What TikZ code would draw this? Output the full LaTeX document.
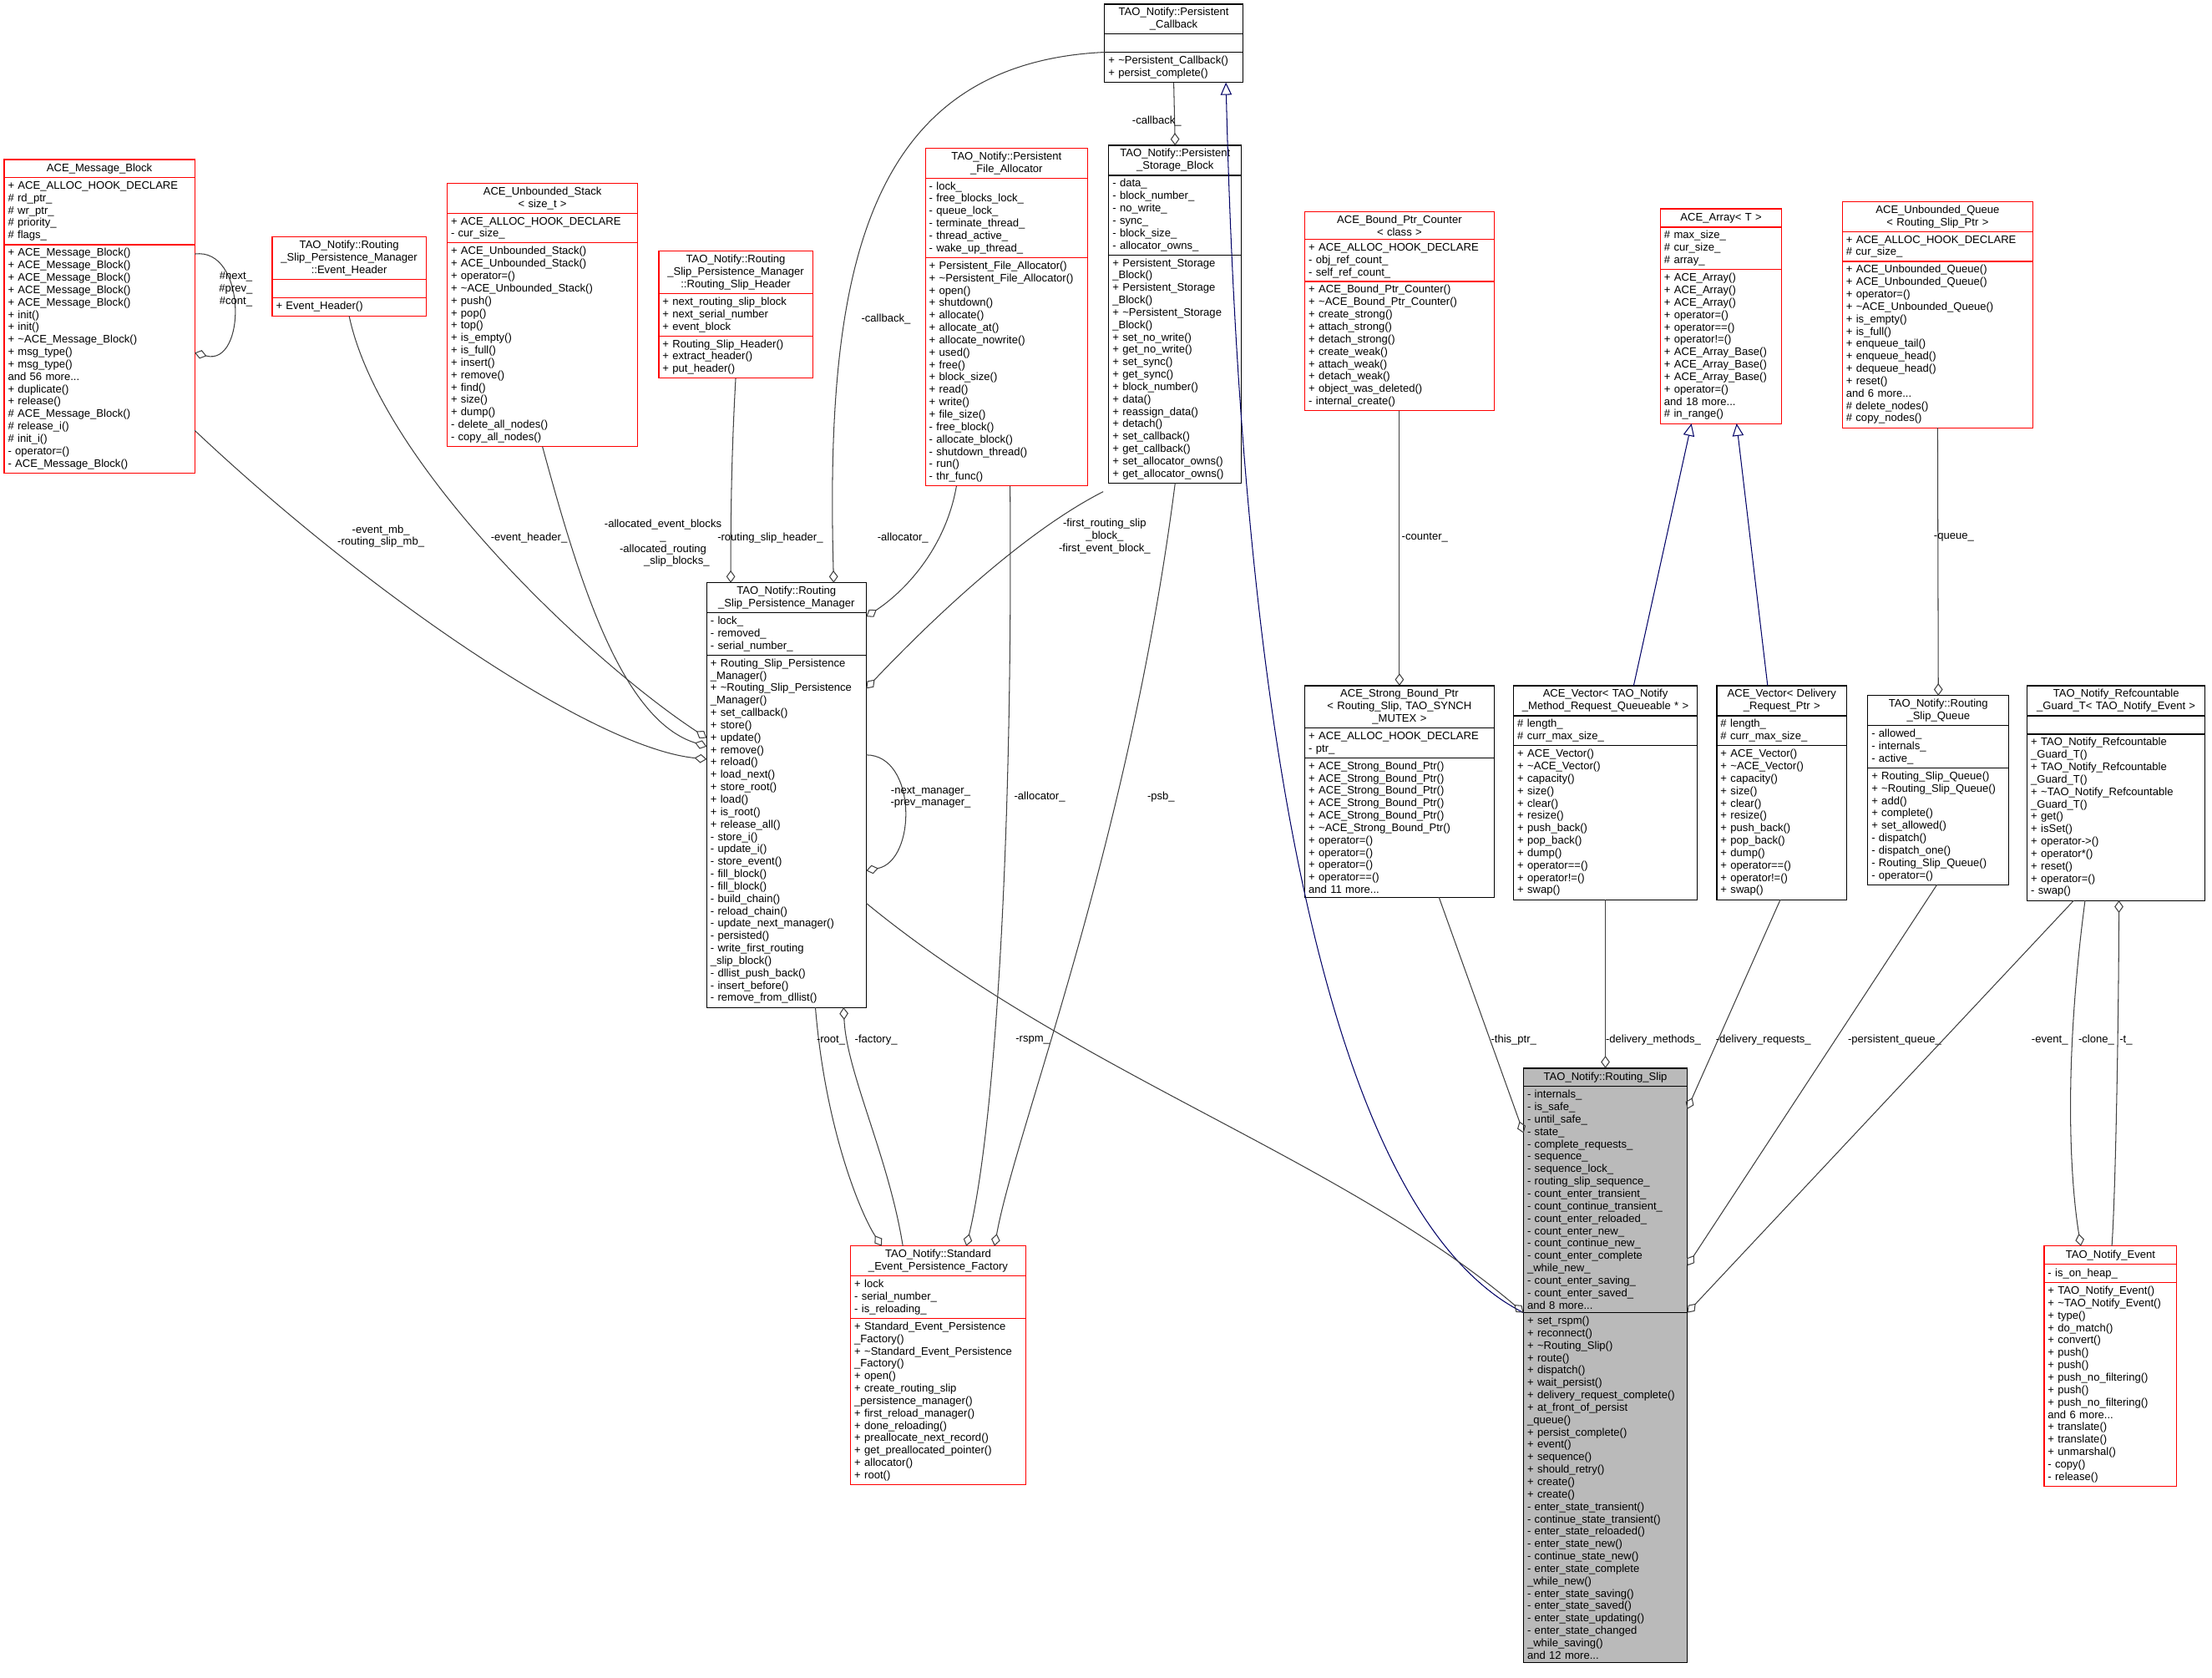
\documentclass[tikz,border=0pt]{standalone}
\usepackage{fontspec}
\setmainfont{Liberation Sans}
\usepackage{tikz}
\usetikzlibrary{arrows.meta,calc,positioning}

\tikzset{
  clspart/.style={draw, fill=white, inner xsep=1.5pt, inner ysep=1.5pt, outer sep=0pt, minimum height=0.26cm,
    font=\fontsize{4.4}{5.0}\selectfont},
  redcls/.style={draw=red},
  blackcls/.style={draw=black},
  graycls/.style={draw=black, fill=black!27},
  coll/.style={draw=black!75, line width=0.35pt, -{Diamond[open,length=5pt,width=3.6pt]}},
  inh/.style={draw=blue!40!black, line width=0.35pt, -{Triangle[open,length=5pt,width=4.5pt]}},
  lbl/.style={inner sep=0pt, align=center, font=\fontsize{4.4}{4.93}\selectfont}
}

% name, x, y, width, style, title, attributes, methods
\newcommand{\umlclass}[8]{%
  \pgfmathsetlengthmacro\clsw{#4*0.02cm-3pt}%
  \node[clspart,#5,anchor=north west,text width=\clsw,align=center] (#1) at (#2,#3) {#6};
  \node[clspart,#5,anchor=north,text width=\clsw,align=left] (#1-a) at (#1.south) {#7};
  \node[clspart,#5,anchor=north,text width=\clsw,align=left] (#1-m) at (#1-a.south) {#8};
}
\newcommand{\dt}{\textasciitilde}

\begin{document}
\catcode`\_=12
\begin{tikzpicture}[x=0.02cm,y=-0.02cm]
  \useasboundingbox[fill=white] (0,0) rectangle (1568,1188.6);

  % classes
  \umlclass{pc}{783}{3}{98}{blackcls}{TAO_Notify::Persistent\\_Callback}{}
    {+ \dt Persistent_Callback()\\+ persist_complete()}
  \umlclass{amb}{3}{113}{135}{redcls}{ACE_Message_Block}
    {+ ACE_ALLOC_HOOK_DECLARE\\\# rd_ptr_\\\# wr_ptr_\\\# priority_\\\# flags_}
    {+ ACE_Message_Block()\\+ ACE_Message_Block()\\+ ACE_Message_Block()\\+ ACE_Message_Block()\\+ ACE_Message_Block()\\+ init()\\+ init()\\+ \dt ACE_Message_Block()\\+ msg_type()\\+ msg_type()\\and 56 more...\\+ duplicate()\\+ release()\\\# ACE_Message_Block()\\\# release_i()\\\# init_i()\\- operator=()\\- ACE_Message_Block()}
  \umlclass{eh}{193}{168}{109}{redcls}{TAO_Notify::Routing\\_Slip_Persistence_Manager\\::Event_Header}{}
    {+ Event_Header()}
  \umlclass{stk}{317}{130}{135}{redcls}{ACE_Unbounded_Stack\\< size_t >}
    {+ ACE_ALLOC_HOOK_DECLARE\\- cur_size_}
    {+ ACE_Unbounded_Stack()\\+ ACE_Unbounded_Stack()\\+ operator=()\\+ \dt ACE_Unbounded_Stack()\\+ push()\\+ pop()\\+ top()\\+ is_empty()\\+ is_full()\\+ insert()\\+ remove()\\+ find()\\+ size()\\+ dump()\\- delete_all_nodes()\\- copy_all_nodes()}
  \umlclass{rsh}{467}{178}{109}{redcls}{TAO_Notify::Routing\\_Slip_Persistence_Manager\\::Routing_Slip_Header}
    {+ next_routing_slip_block\\+ next_serial_number\\+ event_block}
    {+ Routing_Slip_Header()\\+ extract_header()\\+ put_header()}
  \umlclass{pfa}{656}{105}{115}{redcls}{TAO_Notify::Persistent\\_File_Allocator}
    {- lock_\\- free_blocks_lock_\\- queue_lock_\\- terminate_thread_\\- thread_active_\\- wake_up_thread_}
    {+ Persistent_File_Allocator()\\+ \dt Persistent_File_Allocator()\\+ open()\\+ shutdown()\\+ allocate()\\+ allocate_at()\\+ allocate_nowrite()\\+ used()\\+ free()\\+ block_size()\\+ read()\\+ write()\\+ file_size()\\- free_block()\\- allocate_block()\\- shutdown_thread()\\- run()\\- thr_func()}
  \umlclass{psb}{786}{103}{94}{blackcls}{TAO_Notify::Persistent\\_Storage_Block}
    {- data_\\- block_number_\\- no_write_\\- sync_\\- block_size_\\- allocator_owns_}
    {+ Persistent_Storage\\_Block()\\+ Persistent_Storage\\_Block()\\+ \dt Persistent_Storage\\_Block()\\+ set_no_write()\\+ get_no_write()\\+ set_sync()\\+ get_sync()\\+ block_number()\\+ data()\\+ reassign_data()\\+ detach()\\+ set_callback()\\+ get_callback()\\+ set_allocator_owns()\\+ get_allocator_owns()}
  \umlclass{bpc}{925}{150}{134}{redcls}{ACE_Bound_Ptr_Counter\\< class >}
    {+ ACE_ALLOC_HOOK_DECLARE\\- obj_ref_count_\\- self_ref_count_}
    {+ ACE_Bound_Ptr_Counter()\\+ \dt ACE_Bound_Ptr_Counter()\\+ create_strong()\\+ attach_strong()\\+ detach_strong()\\+ create_weak()\\+ attach_weak()\\+ detach_weak()\\+ object_was_deleted()\\- internal_create()}
  \umlclass{arr}{1177}{148}{86}{redcls}{ACE_Array< T >}
    {\# max_size_\\\# cur_size_\\\# array_}
    {+ ACE_Array()\\+ ACE_Array()\\+ ACE_Array()\\+ operator=()\\+ operator==()\\+ operator!=()\\+ ACE_Array_Base()\\+ ACE_Array_Base()\\+ ACE_Array_Base()\\+ operator=()\\and 18 more...\\\# in_range()}
  \umlclass{uq}{1306}{143}{135}{redcls}{ACE_Unbounded_Queue\\< Routing_Slip_Ptr >}
    {+ ACE_ALLOC_HOOK_DECLARE\\\# cur_size_}
    {+ ACE_Unbounded_Queue()\\+ ACE_Unbounded_Queue()\\+ operator=()\\+ \dt ACE_Unbounded_Queue()\\+ is_empty()\\+ is_full()\\+ enqueue_tail()\\+ enqueue_head()\\+ dequeue_head()\\+ reset()\\and 6 more...\\\# delete_nodes()\\\# copy_nodes()}
  \umlclass{rspm}{501}{413}{113}{blackcls}{TAO_Notify::Routing\\_Slip_Persistence_Manager}
    {- lock_\\- removed_\\- serial_number_}
    {+ Routing_Slip_Persistence\\_Manager()\\+ \dt Routing_Slip_Persistence\\_Manager()\\+ set_callback()\\+ store()\\+ update()\\+ remove()\\+ reload()\\+ load_next()\\+ store_root()\\+ load()\\+ is_root()\\+ release_all()\\- store_i()\\- update_i()\\- store_event()\\- fill_block()\\- fill_block()\\- build_chain()\\- reload_chain()\\- update_next_manager()\\- persisted()\\- write_first_routing\\_slip_block()\\- dllist_push_back()\\- insert_before()\\- remove_from_dllist()}
  \umlclass{sbp}{925}{486}{134}{blackcls}{ACE_Strong_Bound_Ptr\\< Routing_Slip, TAO_SYNCH\\_MUTEX >}
    {+ ACE_ALLOC_HOOK_DECLARE\\- ptr_}
    {+ ACE_Strong_Bound_Ptr()\\+ ACE_Strong_Bound_Ptr()\\+ ACE_Strong_Bound_Ptr()\\+ ACE_Strong_Bound_Ptr()\\+ ACE_Strong_Bound_Ptr()\\+ \dt ACE_Strong_Bound_Ptr()\\+ operator=()\\+ operator=()\\+ operator=()\\+ operator==()\\and 11 more...}
  \umlclass{vqm}{1073}{486}{130}{blackcls}{ACE_Vector< TAO_Notify\\_Method_Request_Queueable * >}
    {\# length_\\\# curr_max_size_}
    {+ ACE_Vector()\\+ \dt ACE_Vector()\\+ capacity()\\+ size()\\+ clear()\\+ resize()\\+ push_back()\\+ pop_back()\\+ dump()\\+ operator==()\\+ operator!=()\\+ swap()}
  \umlclass{vdr}{1217}{486}{92}{blackcls}{ACE_Vector< Delivery\\_Request_Ptr >}
    {\# length_\\\# curr_max_size_}
    {+ ACE_Vector()\\+ \dt ACE_Vector()\\+ capacity()\\+ size()\\+ clear()\\+ resize()\\+ push_back()\\+ pop_back()\\+ dump()\\+ operator==()\\+ operator!=()\\+ swap()}
  \umlclass{rsq}{1324}{493}{100}{blackcls}{TAO_Notify::Routing\\_Slip_Queue}
    {- allowed_\\- internals_\\- active_}
    {+ Routing_Slip_Queue()\\+ \dt Routing_Slip_Queue()\\+ add()\\+ complete()\\+ set_allowed()\\- dispatch()\\- dispatch_one()\\- Routing_Slip_Queue()\\- operator=()}
  \umlclass{grd}{1437}{486}{126}{blackcls}{TAO_Notify_Refcountable\\_Guard_T< TAO_Notify_Event >}{}
    {+ TAO_Notify_Refcountable\\_Guard_T()\\+ TAO_Notify_Refcountable\\_Guard_T()\\+ \dt TAO_Notify_Refcountable\\_Guard_T()\\+ get()\\+ isSet()\\+ operator->()\\+ operator*()\\+ reset()\\+ operator=()\\- swap()}
  \umlclass{rs}{1080}{757}{116}{graycls}{TAO_Notify::Routing_Slip}
    {- internals_\\- is_safe_\\- until_safe_\\- state_\\- complete_requests_\\- sequence_\\- sequence_lock_\\- routing_slip_sequence_\\- count_enter_transient_\\- count_continue_transient_\\- count_enter_reloaded_\\- count_enter_new_\\- count_continue_new_\\- count_enter_complete\\_while_new_\\- count_enter_saving_\\- count_enter_saved_\\and 8 more...}
    {+ set_rspm()\\+ reconnect()\\+ \dt Routing_Slip()\\+ route()\\+ dispatch()\\+ wait_persist()\\+ delivery_request_complete()\\+ at_front_of_persist\\_queue()\\+ persist_complete()\\+ event()\\+ sequence()\\+ should_retry()\\+ create()\\+ create()\\- enter_state_transient()\\- continue_state_transient()\\- enter_state_reloaded()\\- enter_state_new()\\- continue_state_new()\\- enter_state_complete\\_while_new()\\- enter_state_saving()\\- enter_state_saved()\\- enter_state_updating()\\- enter_state_changed\\_while_saving()\\and 12 more...}
  \umlclass{sepf}{603}{883}{124}{redcls}{TAO_Notify::Standard\\_Event_Persistence_Factory}
    {+ lock\\- serial_number_\\- is_reloading_}
    {+ Standard_Event_Persistence\\_Factory()\\+ \dt Standard_Event_Persistence\\_Factory()\\+ open()\\+ create_routing_slip\\_persistence_manager()\\+ first_reload_manager()\\+ done_reloading()\\+ preallocate_next_record()\\+ get_preallocated_pointer()\\+ allocator()\\+ root()}
  \umlclass{ev}{1449}{883}{94}{redcls}{TAO_Notify_Event}
    {- is_on_heap_}
    {+ TAO_Notify_Event()\\+ \dt TAO_Notify_Event()\\+ type()\\+ do_match()\\+ convert()\\+ push()\\+ push()\\+ push_no_filtering()\\+ push()\\+ push_no_filtering()\\and 6 more...\\+ translate()\\+ translate()\\+ unmarshal()\\- copy()\\- release()}

  % inheritance
  \draw[inh] (rs-a.south west) .. controls (900,840) and (875,300) .. ($(pc-m.south east)+(-12,0)$);
  \draw[inh] ($(vqm.north west)+(85,0)$) -- ($(arr-m.south west)+(22,0)$);
  \draw[inh] ($(vdr.north west)+(36,0)$) -- ($(arr-m.south west)+(54,0)$);

  % members
  \draw[coll] (pc-m.south) -- (psb.north);
  \node[lbl] (l-cb1) at (820,86) {-callback_};
  \draw[coll] (pc.west |- 0,37) .. controls (610,45) and (585,200) .. ($(rspm.north west)+(90,0)$);
  \node[lbl] (l-cb2) at (628,226) {-callback_};
  \draw[coll] (amb-m.east |- 0,305) .. controls (260,420) and (420,530) .. (rspm-m.west |- 0,538);
  \node[lbl] (l-mb) at (270,380) {-event_mb_\\-routing_slip_mb_};
  \draw[coll] (amb-m.east |- 0,180) .. controls (175,175) and (175,260) .. (amb-m.east |- 0,250);
  \node[lbl, anchor=west] (l-amb) at (155,205) {\#next_\\\#prev_\\\#cont_};
  \draw[coll] (eh-m.south) .. controls (270,330) and (420,470) .. (rspm-m.west |- 0,523);
  \node[lbl] (l-eh) at (375,381) {-event_header_};
  \draw[coll] (stk-m.south) .. controls (410,410) and (440,510) .. (rspm-m.west |- 0,529);
  \node[lbl] (l-stk) at (470,385) {-allocated_event_blocks\\_\\-allocated_routing\\\hspace*{2.5em}_slip_blocks_};
  \draw[coll] (rsh-m.south) .. controls (518,330) and (518,380) .. ($(rspm.north west)+(17,0)$);
  \node[lbl] (l-rsh) at (546,381) {-routing_slip_header_};
  \draw[coll] ($(pfa-m.south west)+(22,0)$) .. controls (670,390) and (640,420) .. (rspm.east |- 0,437);
  \node[lbl] (l-pfa) at (640,381) {-allocator_};
  \draw[coll] ($(psb-m.south west)+(-4,6)$) .. controls (720,380) and (650,450) .. (rspm-m.east |- 0,488);
  \node[lbl] (l-psb) at (783,380) {-first_routing_slip\\_block_\\-first_event_block_};
  \draw[coll] (rspm-m.east |- 0,535) .. controls (650,535) and (650,610) .. (rspm-m.east |- 0,617);
  \node[lbl, anchor=west] (l-nm) at (631,565) {-next_manager_\\-prev_manager_};
  \draw[coll] ($(pfa-m.south west)+(60,0)$) .. controls (718,600) and (705,800) .. ($(sepf.north west)+(82,0)$);
  \node[lbl] (l-al) at (737,565) {-allocator_};
  \draw[coll] (psb-m.south) .. controls (800,600) and (720,800) .. ($(sepf.north west)+(102,0)$);
  \node[lbl] (l-psbf) at (823,565) {-psb_};
  \draw[coll] ($(rspm-m.south west)+(77,0)$) .. controls (585,800) and (610,860) .. ($(sepf.north west)+(22,0)$);
  \node[lbl] (l-root) at (589,737) {-root_};
  \draw[coll] ($(sepf.north west)+(37,0)$) .. controls (630,820) and (600,760) .. ($(rspm-m.south west)+(97,0)$);
  \node[lbl] (l-fac) at (621,737) {-factory_};
  \draw[coll] (rspm-m.east |- 0,640) .. controls (760,760) and (950,820) .. (rs-a.south west);
  \node[lbl] (l-rspm) at (732,737) {-rspm_};
  \draw[coll] (bpc-m.south) -- ($(sbp.north west)+(67,0)$);
  \node[lbl] (l-cnt) at (1010,381) {-counter_};
  \draw[coll] (uq-m.south) -- (rsq.north);
  \node[lbl] (l-q) at (1385,381) {-queue_};
  \draw[coll] ($(sbp-m.south west)+(95,0)$) -- (rs-a.west |- 0,803);
  \node[lbl] (l-tp) at (1073,737) {-this_ptr_};
  \draw[coll] ($(vqm-m.south west)+(65,0)$) -- ($(rs.north west)+(58,0)$);
  \node[lbl] (l-dm) at (1172,737) {-delivery_methods_};
  \draw[coll] ($(vdr-m.south west)+(45,0)$) -- (rs-a.east |- 0,786);
  \node[lbl] (l-dr) at (1250,737) {-delivery_requests_};
  \draw[coll] ($(rsq-m.south west)+(49,0)$) -- (rs-a.east |- 0,897);
  \node[lbl] (l-pq) at (1343,737) {-persistent_queue_};
  \draw[coll] ($(grd-m.south west)+(33,0)$) -- (rs-a.south east);
  \node[lbl] (l-ev) at (1453,737) {-event_};
  \draw[coll] ($(grd-m.south west)+(41,0)$) .. controls (1462,760) and (1468,840) .. ($(ev.north west)+(26,0)$);
  \node[lbl] (l-cl) at (1486,737) {-clone_};
  \draw[coll] ($(ev.north west)+(48,0)$) .. controls (1500,840) and (1502,700) .. ($(grd-m.south west)+(65,0)$);
  \node[lbl] (l-t) at (1507,737) {-t_};
\end{tikzpicture}
\end{document}
